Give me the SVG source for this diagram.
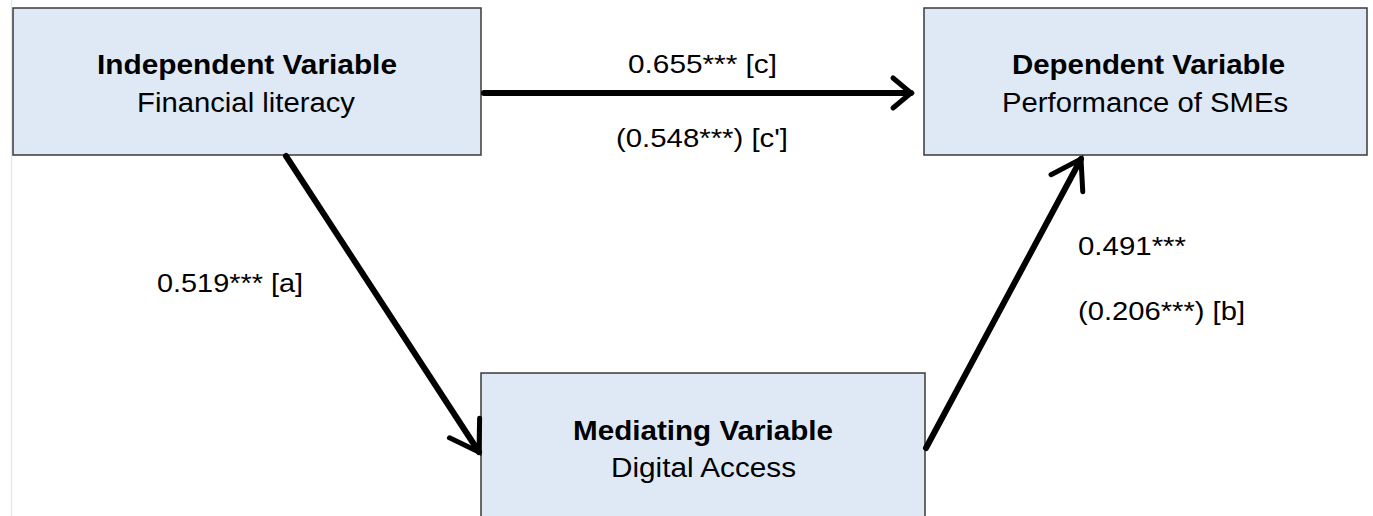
<svg xmlns="http://www.w3.org/2000/svg" width="1373" height="516" viewBox="0 0 1373 516">
  <style>
    .box { fill: #dfe9f6; stroke: #3a3a3a; stroke-width: 1.5; }
    .title { font-family: "Liberation Sans", Arial, sans-serif; font-weight: bold; font-size: 27px; fill: #000; text-anchor: start; }
    .sub { font-family: "Liberation Sans", Arial, sans-serif; font-size: 27px; fill: #000; text-anchor: start; }
    .lbl { font-family: "Liberation Sans", Arial, sans-serif; font-size: 25px; fill: #000; text-anchor: start; }
    .conn { stroke: #000; stroke-width: 6; fill: none; stroke-linecap: round; }
    .head { stroke: #000; stroke-width: 5; fill: none; stroke-linejoin: miter; stroke-linecap: round; }
  </style>
  <defs>
    <marker id="arrowS" markerUnits="userSpaceOnUse" viewBox="-30 -20 34 40" refX="0" refY="0" markerWidth="34" markerHeight="40" orient="auto" overflow="visible">
      <path class="head" d="M-18,-15 L0,0 L-18,15"/>
    </marker>
    <marker id="arrowL" markerUnits="userSpaceOnUse" viewBox="-34 -24 38 48" refX="0" refY="0" markerWidth="38" markerHeight="48" orient="auto" overflow="visible">
      <path class="head" d="M-28,-19 L0,0 L-28,17"/>
    </marker>
  </defs>
  <rect x="0" y="0" width="1373" height="516" fill="#ffffff"/>
  <line x1="11.5" y1="0" x2="11.5" y2="516" stroke="#e2e6ec" stroke-width="1.2"/>

  <g id="node-independent">
    <rect class="box" x="13" y="8" width="468" height="147"/>
    <text class="title" x="97" y="74" textLength="300" lengthAdjust="spacingAndGlyphs">Independent Variable</text>
    <text class="sub" x="137" y="112" textLength="218" lengthAdjust="spacingAndGlyphs">Financial literacy</text>
  </g>

  <g id="node-dependent">
    <rect class="box" x="924" y="8" width="443" height="147"/>
    <text class="title" x="1012" y="74" textLength="273" lengthAdjust="spacingAndGlyphs">Dependent Variable</text>
    <text class="sub" x="1002" y="112" textLength="286" lengthAdjust="spacingAndGlyphs">Performance of SMEs</text>
  </g>

  <g id="node-mediating">
    <rect class="box" x="481" y="373" width="444" height="150"/>
    <text class="title" x="573" y="440" textLength="260" lengthAdjust="spacingAndGlyphs">Mediating Variable</text>
    <text class="sub" x="611" y="477" textLength="185" lengthAdjust="spacingAndGlyphs">Digital Access</text>
  </g>

  <g id="connectors">
    <line class="conn" x1="484" y1="93" x2="911" y2="93" marker-end="url(#arrowS)"/>
    <line class="conn" x1="286" y1="156" x2="479" y2="452" marker-end="url(#arrowL)"/>
    <line class="conn" x1="926" y1="448" x2="1081" y2="159" marker-end="url(#arrowL)"/>
  </g>

  <g id="labels">
    <text class="lbl" x="628" y="73" textLength="149" lengthAdjust="spacingAndGlyphs">0.655*** [c]</text>
    <text class="lbl" x="616" y="147" textLength="172" lengthAdjust="spacingAndGlyphs">(0.548***) [c']</text>
    <text class="lbl" x="157" y="292" textLength="146" lengthAdjust="spacingAndGlyphs">0.519*** [a]</text>
    <text class="lbl" x="1078" y="255" textLength="108" lengthAdjust="spacingAndGlyphs">0.491***</text>
    <text class="lbl" x="1078" y="320" textLength="167" lengthAdjust="spacingAndGlyphs">(0.206***) [b]</text>
  </g>
</svg>
